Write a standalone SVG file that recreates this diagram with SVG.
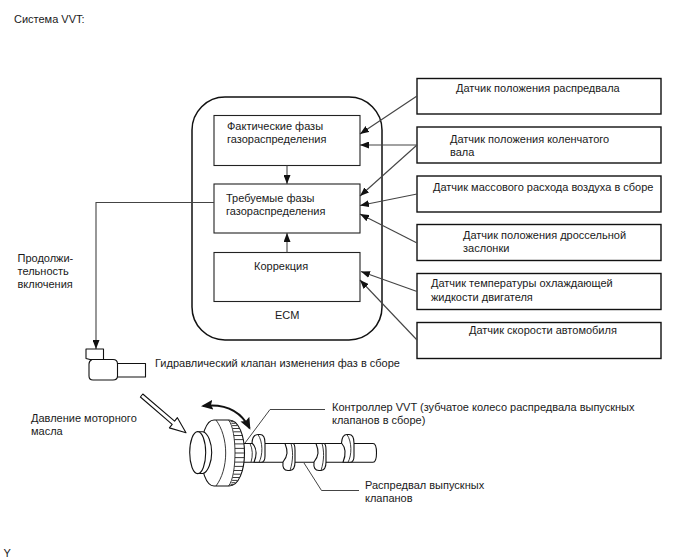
<svg xmlns="http://www.w3.org/2000/svg" width="688" height="560" viewBox="0 0 688 560">
  <style>
    text { font-family: "Liberation Sans", Arial, sans-serif; font-size: 11px; fill: #1a1a1a; }
    .box { fill: #fff; stroke: #222; stroke-width: 1.1; }
    .sensor { fill: #fff; stroke: #111; stroke-width: 1.4; }
    .wire { fill: none; stroke: #444; stroke-width: 1.1; }
    .part { fill: #fff; stroke: #111; stroke-width: 1.1; stroke-linejoin: round; }
    .thin { fill: none; stroke: #222; stroke-width: 0.9; }
    .teeth { fill: none; stroke: #222; stroke-width: 0.9; }
    .leader { fill: none; stroke: #444; stroke-width: 1; }
  </style>
  <defs>
    <marker id="head" markerUnits="userSpaceOnUse" markerWidth="10" markerHeight="7" refX="9" refY="3.5" orient="auto">
      <path d="M0 0 L9 3.5 L0 7 Z" fill="#111"/>
    </marker>
    <marker id="curveHead" markerUnits="userSpaceOnUse" markerWidth="13" markerHeight="10" refX="10" refY="5" orient="auto-start-reverse">
      <path d="M0 0 L12 5 L0 10 L2 5 Z" fill="#111"/>
    </marker>
  </defs>

  <text x="14" y="23">Система VVT:</text>

  <g id="ecm">
    <rect x="192" y="97" width="190" height="243" rx="33" ry="33" fill="#fff" stroke="#111" stroke-width="1.5"/>
    <text x="275" y="319">ECM</text>
  </g>
  <g id="actual-timing">
    <rect class="box" x="214" y="115.5" width="146" height="50"/>
    <text x="227" y="130">Фактические фазы</text>
    <text x="227" y="143">газораспределения</text>
  </g>
  <g id="target-timing">
    <rect class="box" x="214" y="184" width="146" height="49"/>
    <text x="226" y="202">Требуемые фазы</text>
    <text x="226" y="215">газораспределения</text>
  </g>
  <g id="correction">
    <rect class="box" x="214" y="252.5" width="146" height="49"/>
    <text x="254" y="270">Коррекция</text>
  </g>

  <g id="sensor-cam">
    <rect class="sensor" x="417" y="78.5" width="244" height="35.5"/>
    <text x="456" y="92">Датчик положения распредвала</text>
  </g>
  <g id="sensor-crank">
    <rect class="sensor" x="417" y="127" width="244" height="36"/>
    <text x="450" y="143">Датчик положения коленчатого</text>
    <text x="450" y="156">вала</text>
  </g>
  <g id="sensor-airflow">
    <rect class="sensor" x="417" y="176" width="244" height="36"/>
    <text x="433" y="191">Датчик массового расхода воздуха в сборе</text>
  </g>
  <g id="sensor-throttle">
    <rect class="sensor" x="417" y="224.5" width="244" height="36"/>
    <text x="463" y="239">Датчик положения дроссельной</text>
    <text x="463" y="252">заслонки</text>
  </g>
  <g id="sensor-coolant">
    <rect class="sensor" x="417" y="273.5" width="244" height="36"/>
    <text x="431" y="287">Датчик температуры охлаждающей</text>
    <text x="431" y="301">жидкости двигателя</text>
  </g>
  <g id="sensor-speed">
    <rect class="sensor" x="417" y="322.5" width="244" height="36"/>
    <text x="469" y="334">Датчик скорости автомобиля</text>
  </g>

  <g id="connectors">
    <line class="wire" x1="417" y1="96" x2="360" y2="134" marker-end="url(#head)"/>
    <line class="wire" x1="417" y1="145" x2="360" y2="145" marker-end="url(#head)"/>
    <line class="wire" x1="417" y1="145" x2="360" y2="196" marker-end="url(#head)"/>
    <line class="wire" x1="417" y1="194" x2="360" y2="205.5" marker-end="url(#head)"/>
    <line class="wire" x1="417" y1="243" x2="360" y2="214" marker-end="url(#head)"/>
    <line class="wire" x1="417" y1="291.5" x2="361" y2="271.5" marker-end="url(#head)"/>
    <line class="wire" x1="417" y1="340" x2="360" y2="280" marker-end="url(#head)"/>
    <line class="wire" x1="287" y1="165.5" x2="287" y2="184" marker-end="url(#head)"/>
    <line class="wire" x1="287" y1="252.5" x2="287" y2="233" marker-end="url(#head)"/>
    <path class="wire" d="M214 202.5 H96 V349" marker-end="url(#head)"/>
  </g>

  <text x="17.5" y="262">Продолжи-</text>
  <text x="17.5" y="275">тельность</text>
  <text x="17.5" y="288">включения</text>

  <g id="oil-control-valve">
    <rect class="part" x="117" y="363.5" width="28.5" height="13.5"/>
    <path class="part" d="M92 359.5 H113 Q117.5 359.5 117.5 364 V376 Q117.5 380 113 380 H93 Q89 380 89 376 V364 Q89 361 92 359.5 Z"/>
    <path class="part" d="M86 349 H103.5 V359.5 H90 L86 358.5 Z"/>
    <text x="155" y="367">Гидравлический клапан изменения фаз в сборе</text>
  </g>

  <g id="oil-pressure">
    <path class="part" d="M140.4 397 L142.8 394 L174.6 421.2 L177.4 417.7 L186 432.7 L169.4 427.9 L172.2 424.4 Z"/>
    <text x="31" y="422">Давление моторного</text>
    <text x="31" y="435">масла</text>
  </g>

  <g id="camshaft">
    <!-- shaft with rounded far end -->
    <path class="part" d="M240 443.5 H373 Q376.5 443.5 376.5 452.8 Q376.5 462.3 373 462.3 H240 Z"/>
    <!-- journal next to the sprocket -->
    <path class="thin" d="M250 443.5 Q254 452 251 462.3"/>
    <!-- cam lobes along the shaft -->
    <path class="part" d="M254 462.3 C257 455 257 448 252 443 Q252.5 434.5 258 434.5 H260 Q265 434.5 265 443 V456 Q265 462.3 261 462.3 Z"/>
    <path class="thin" d="M258 434.5 C263 442 263 455 259 462.3"/>
    <path class="part" d="M341.5 443 Q342 434.5 347 434.5 H349 Q354 434.5 354 443 V456 Q354 462.3 350 462.3 H343 C346 455 346 448 341.5 443 Z"/>
    <path class="thin" d="M347 434.5 C352 442 352 455 348 462.3"/>
    <path class="part" d="M285 443.5 C288 451 288 456 283 462 Q282 470.5 288 470.5 H290 Q295 470 295 462 V450 Q295 444 293 443.5 Z"/>
    <path class="thin" d="M291 443.5 C293 450 293.5 460 290 470.5"/>
    <path class="part" d="M316 443.5 C319 451 319 456 314 462 Q313 470.5 319 470.5 H321 Q326 470 326 462 V450 Q326 444 324 443.5 Z"/>
    <path class="thin" d="M322 443.5 C324 450 324.5 460 321 470.5"/>

    <!-- sprocket outline -->
    <path class="part" d="M214 420 H229 C239 420 244.5 436 244.5 453 C244.5 470 239 486 229 486 H214 C206 486 201 470 201 453 C201 436 206 420 214 420 Z"/>
    <!-- teeth of the sprocket rim -->
    <path class="teeth" d="M235 453 H244.5 M234.9 448.4 H244.3 M234.9 457.6 H244.3 M234.7 443.9 H243.9 M234.7 462.1 H243.9 M234.4 439.6 H243.1 M234.4 466.4 H243.1 M234 435.5 H242.1 M234 470.5 H242.1 M233.5 431.8 H240.8 M233.5 474.2 H240.8 M232.8 428.5 H239.2 M232.8 477.5 H239.2 M232.1 425.6 H237.4 M232.1 480.4 H237.4 M231.4 423.3 H235.5 M231.4 482.7 H235.5 M230.5 421.6 H233.4 M230.5 484.4 H233.4"/>
    <path class="thin" d="M228.5 420 C233 425 235 440 235 453 C235 466 233 481 228.5 486"/>
    <path class="thin" d="M216 420 C222 428 225.7 440 225.7 453 C225.7 466 222 478 216 486"/>
    <!-- front boss -->
    <path class="part" d="M197.7 431.7 H203 C208 433 211.7 443 211.7 452.5 C211.7 462 208 472 203 473.5 H197.7 Z"/>
    <ellipse class="part" cx="197.7" cy="452.6" rx="8" ry="21"/>
  </g>

  <g id="rotation-arrow">
    <path d="M203 406 Q236 402 249.5 428" fill="none" stroke="#111" stroke-width="2" marker-start="url(#curveHead)" marker-end="url(#curveHead)"/>
  </g>

  <g id="leaders">
    <path class="leader" d="M245 443 L270 409.5 H325"/>
    <path class="leader" d="M304 463 L321.5 490.5 H359"/>
  </g>
  <text x="332" y="411">Контроллер VVT (зубчатое колесо распредвала выпускных</text>
  <text x="332" y="424">клапанов в сборе)</text>
  <text x="365" y="489">Распредвал выпускных</text>
  <text x="365" y="502">клапанов</text>
  <text x="3.5" y="557">Y</text>
</svg>
